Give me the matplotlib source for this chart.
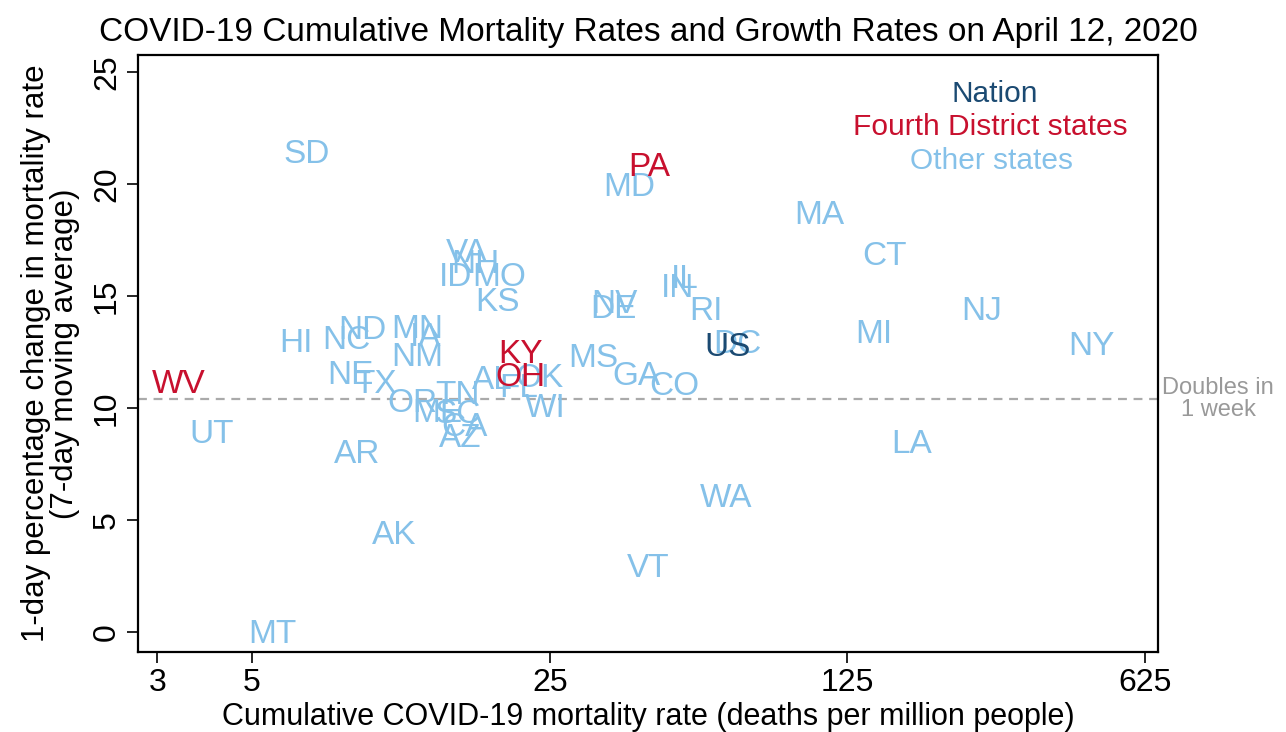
import matplotlib
matplotlib.use("Agg")
import matplotlib.pyplot as plt
from matplotlib import transforms
from matplotlib.ticker import FixedLocator, NullLocator

plt.rcParams['font.family'] = ['Liberation Sans', 'DejaVu Sans']

# label, cumulative mortality rate (deaths per million), 1-day % change (7-day avg)
states = ["SD", "PA", "MD", "MA", "CT", "VA", "NH", "ID", "MO", "KS",
          "IL", "IN", "RI", "NV", "DE", "NJ", "MI", "NY", "DC", "US",
          "HI", "NC", "ND", "MN", "IA", "NM", "KY", "OH", "MS", "GA",
          "CO", "NE", "TX", "AL", "FL", "OK", "OR", "TN", "ME", "SC",
          "CA", "AZ", "WI", "UT", "AR", "LA", "WA", "AK", "VT", "MT", "WV"]
mortality = [6.73, 42.8, 38.4, 107.4, 152.7, 16.0, 16.7, 15.0, 19.0, 18.9,
             52.0, 49.8, 58.3, 35.4, 35.2, 258.0, 143.9, 468.0, 69.0, 65.3,
             6.34, 8.31, 9.07, 12.2, 12.8, 12.2, 21.4, 21.3, 31.6, 39.9,
             49.0, 8.50, 9.73, 18.3, 21.1, 23.7, 11.9, 15.2, 13.6, 15.2,
             15.8, 15.4, 24.4, 4.03, 8.82, 176.7, 65.0, 10.8, 42.6, 5.57, 3.37]
growth = [21.43, 20.85, 19.96, 18.71, 16.88, 17.05, 16.52, 15.94, 15.94, 14.82,
          15.89, 15.45, 14.46, 14.73, 14.51, 14.46, 13.39, 12.86, 12.95, 12.81,
          12.99, 13.13, 13.57, 13.62, 13.26, 12.37, 12.50, 11.47, 12.32, 11.52,
          11.07, 11.56, 11.16, 11.34, 10.98, 11.43, 10.31, 10.71, 9.87, 9.82,
          9.24, 8.75, 10.09, 8.93, 8.04, 8.48, 6.07, 4.42, 2.95, 0.0, 11.20]
nation = ["US"]
fourth_district = ["KY", "OH", "PA", "WV"]

x_ticks = [3, 5, 25, 125, 625]
y_ticks = [0, 5, 10, 15, 20, 25]
doubling_rate = 10.4

c_nation = "#1B4A72"
c_fourth = "#C8102E"
c_other = "#85C1E9"

fig = plt.figure(figsize=(12.86, 7.32), dpi=100)
ax = fig.add_axes([0.1073, 0.1093, 0.7932, 0.8156])

ax.set_xscale("log")
ax.set_xlim(2.70, 670)
ax.set_ylim(-0.9, 25.76)

ax.axhline(doubling_rate, color="#AAAAAA", lw=1.6, ls=(0, (4, 3)), zorder=1)

# nudge labels down a little so the capitals sit centred on the point
lbl_tr = transforms.offset_copy(ax.transData, fig=fig, y=-3, units="dots")
for s, xv, yv in zip(states, mortality, growth):
    if s in nation:
        col = c_nation
    elif s in fourth_district:
        col = c_fourth
    else:
        col = c_other
    ax.text(xv, yv, s, color=col, fontsize=24, ha="center", va="center",
            transform=lbl_tr, zorder=3 if col != c_other else 2)

# legend-like labels
ax.text(0.840, 0.935, "Nation", transform=ax.transAxes, color=c_nation,
        fontsize=21.5, ha="center", va="center")
ax.text(0.836, 0.879, "Fourth District states", transform=ax.transAxes, color=c_fourth,
        fontsize=21.5, ha="center", va="center")
ax.text(0.837, 0.823, "Other states", transform=ax.transAxes, color=c_other,
        fontsize=21.5, ha="center", va="center")

ax.text(1.0588, doubling_rate, "Doubles in\n1 week", transform=ax.get_yaxis_transform(),
        color="#999999", fontsize=17, ha="center", va="center", clip_on=False,
        linespacing=0.95)

ax.xaxis.set_major_locator(FixedLocator(x_ticks))
ax.xaxis.set_minor_locator(NullLocator())
ax.set_xticklabels([str(t) for t in x_ticks])
ax.set_yticks(y_ticks)
ax.set_yticklabels([str(t) for t in y_ticks], rotation=90, va="center")

ax.tick_params(axis="both", direction="out", length=8, width=1.2, labelsize=23, colors="black")
for sp in ax.spines.values():
    sp.set_linewidth(1.6)
    sp.set_color("black")

ax.set_xlabel("Cumulative COVID-19 mortality rate (deaths per million people)", fontsize=22, labelpad=3)
ax.set_ylabel("1-day percentage change in mortality rate\n(7-day moving average)", fontsize=22.5,
              labelpad=9, linespacing=0.95)
ax.set_title("COVID-19 Cumulative Mortality Rates and Growth Rates on April 12, 2020",
             fontsize=24, pad=10)

fig.savefig("out.png", dpi=100)
